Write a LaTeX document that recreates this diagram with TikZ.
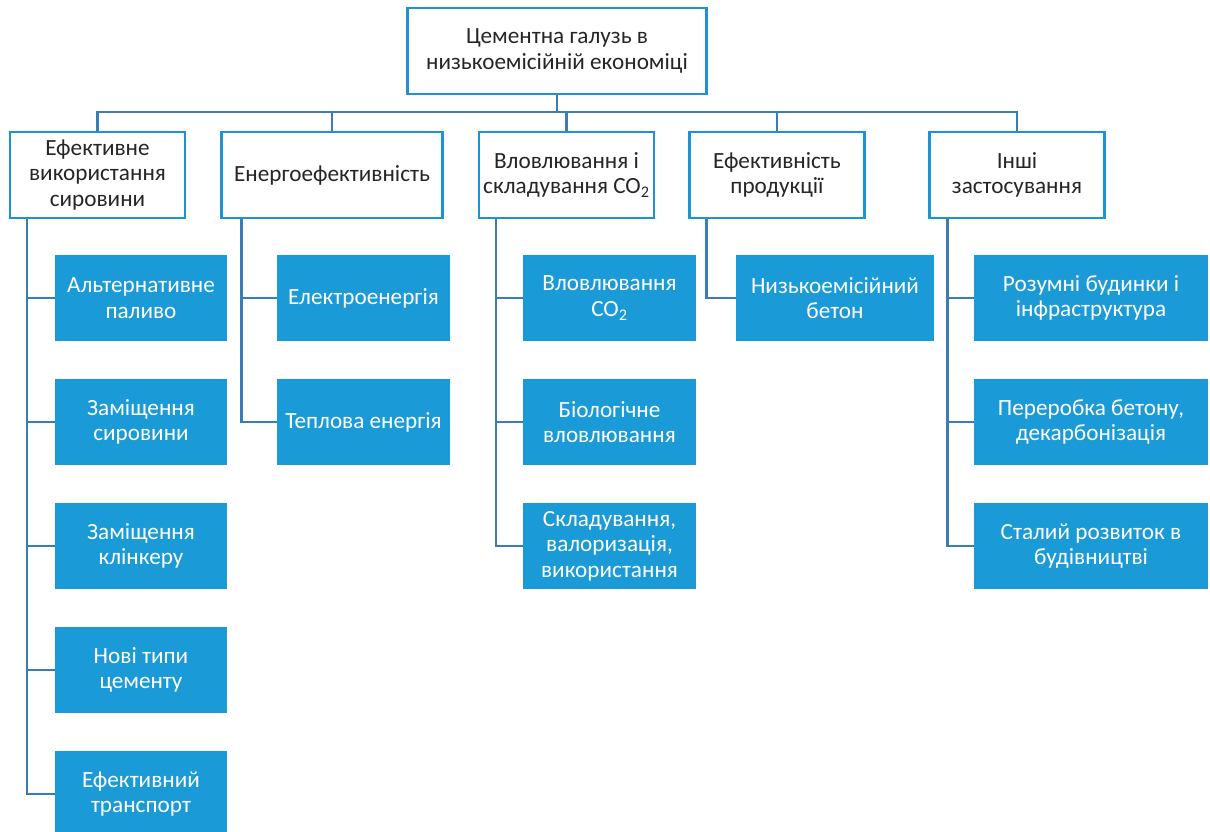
\documentclass[tikz,border=0pt]{standalone}
\usepackage{fontspec}
\setmainfont{Carlito}
\usepackage{xcolor}
\usepackage{tikz}
\usetikzlibrary{positioning}

\definecolor{boxblue}{HTML}{1C93D2}
\definecolor{fillblue}{HTML}{1A9AD6}
\definecolor{lineblue}{HTML}{3A7DB4}
\definecolor{textgray}{HTML}{262626}

\tikzset{
	topbox/.style={draw=boxblue,line width=1.6pt,fill=white,text=textgray,align=center,
		minimum width=7.475cm,minimum height=2.15cm,inner sep=2pt},
	catbox/.style={draw=boxblue,line width=1.6pt,fill=white,text=textgray,align=center,
		minimum width=4.375cm,minimum height=2.15cm,inner sep=1pt},
	subbox/.style={fill=fillblue,text=white,align=center,
		minimum width=4.3cm,minimum height=2.125cm,inner sep=2pt},
	link/.style={draw=lineblue,line width=1.7pt}
}

\begin{document}
\begin{tikzpicture}[x=0.025cm,y=-0.025cm,font=\fontsize{16.5pt}{18.2pt}\selectfont]
	\useasboundingbox (0,0) rectangle (1210,832);
	\clip (0,0) rectangle (1210,832);
	% top level
	\node[topbox] (top) at (557,51) {Цементна галузь в\\низькоемісійній економіці};
	\coordinate (bus) at (557,112);
	% categories
	\node[catbox] (c1) at (97.5,175) {Ефективне\\використання\\сировини};
	\node[catbox,minimum width=5.525cm] (c2) at (332,175) {Енергоефективність};
	\node[catbox] (c3) at (566.5,175) {Вловлювання і\\складування CO\textsubscript{2}};
	\node[catbox] (c4) at (777,175) {Ефективність\\продукції};
	\node[catbox] (c5) at (1017,175) {Інші\\застосування};
	% first column
	\node[subbox] (a1) at (141,298) {Альтернативне\\паливо};
	\node[subbox] (a2) at (141,422) {Заміщення\\сировини};
	\node[subbox] (a3) at (141,546) {Заміщення\\клінкеру};
	\node[subbox] (a4) at (141,670) {Нові типи\\цементу};
	\node[subbox] (a5) at (141,794) {Ефективний\\транспорт};
	% second column
	\node[subbox] (b1) at (363.5,298) {Електроенергія};
	\node[subbox] (b2) at (363.5,422) {Теплова енергія};
	% third column
	\node[subbox] (d1) at (609.5,298) {Вловлювання\\CO\textsubscript{2}};
	\node[subbox] (d2) at (609.5,422) {Біологічне\\вловлювання};
	\node[subbox] (d3) at (609.5,546) {Складування,\\валоризація,\\використання};
	% fourth column
	\node[subbox,minimum width=4.95cm] (e1) at (835,298) {Низькоемісійний\\бетон};
	% fifth column
	\node[subbox,minimum width=5.85cm] (f1) at (1091,298) {Розумні будинки і\\інфраструктура};
	\node[subbox,minimum width=5.85cm] (f2) at (1091,422) {Переробка бетону,\\декарбонізація};
	\node[subbox,minimum width=5.85cm] (f3) at (1091,546) {Сталий розвиток в\\будівництві};
	% connectors
	\draw[link] (top.south) -- (bus);
	\foreach \c in {c1,c2,c3,c4,c5}
		\draw[link] (\c.north) |- (bus);
	\path (c1.south west) ++(18,0) coordinate (s1);
	\path (c2.south west) ++(21,0) coordinate (s2);
	\path (c3.south west) ++(18,0) coordinate (s3);
	\path (c4.south west) ++(18,0) coordinate (s4);
	\path (c5.south west) ++(19,0) coordinate (s5);
	\foreach \n in {a1,a2,a3,a4,a5}
		\draw[link] (s1) |- (\n.west);
	\foreach \n in {b1,b2}
		\draw[link] (s2) |- (\n.west);
	\foreach \n in {d1,d2,d3}
		\draw[link] (s3) |- (\n.west);
	\draw[link] (s4) |- (e1.west);
	\foreach \n in {f1,f2,f3}
		\draw[link] (s5) |- (\n.west);
\end{tikzpicture}
\end{document}
